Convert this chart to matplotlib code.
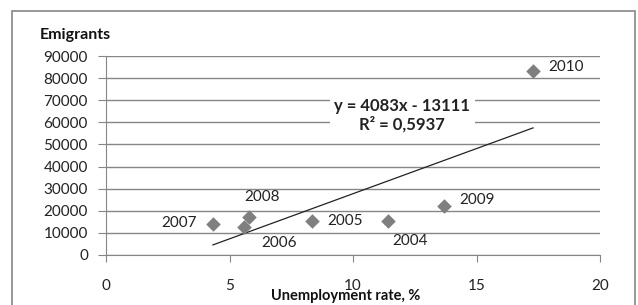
import matplotlib
matplotlib.use("Agg")
import matplotlib.pyplot as plt
from matplotlib.patches import Rectangle
import numpy as np

plt.rcParams['font.family'] = ['Lato', 'DejaVu Sans']

# data
years = ['2004', '2005', '2006', '2007', '2008', '2009', '2010']
unemployment = [11.42, 8.34, 5.59, 4.33, 5.79, 13.68, 17.29]
emigrants = [15200, 15400, 12600, 14000, 17200, 22100, 83200]
slope, intercept = 4083, -13111
eq_text = 'y = 4083x - 13111\nR² = 0,5937'

# label offsets in pixels (dx, dy, ha)
label_pos = {
    '2004': (22, -20, 'center'),
    '2005': (15, 0, 'left'),
    '2006': (35, -16, 'center'),
    '2007': (-16, 1, 'right'),
    '2008': (13, 20, 'center'),
    '2009': (15, 6, 'left'),
    '2010': (15, 4, 'left'),
}

fig = plt.figure(figsize=(6.38, 3.05), dpi=100)
ax = fig.add_axes([106/638, 50/305, 494/638, 199/305])

# outer chart border
fig.patches.append(Rectangle((12/638, -0.1), 623/638, 1.1 - 11/305, transform=fig.transFigure,
                             fill=False, edgecolor='#868686', linewidth=1.2))

ax.set_xlim(0, 20)
ax.set_ylim(0, 90000)
ax.set_xticks([0, 5, 10, 15, 20])
ax.set_yticks(np.arange(0, 90001, 10000))
ax.yaxis.grid(True, color='#868686', linewidth=1)
ax.set_axisbelow(True)
for s in ['top', 'right']:
    ax.spines[s].set_visible(False)
for s in ['left', 'bottom']:
    ax.spines[s].set_color('#868686')
ax.tick_params(axis='y', length=6, color='#868686', pad=7, labelsize=11, labelcolor='#222222')
ax.tick_params(axis='x', length=5, color='#868686', pad=12, labelsize=11, labelcolor='#222222')

ax.scatter(unemployment, emigrants, marker='D', s=55, color='#7f7f7f', zorder=3, linewidths=0)

xs = np.array([min(unemployment), max(unemployment)])
ax.plot(xs, slope * xs + intercept, color='#222222', linewidth=0.9, zorder=2)

for yr, xv, yv in zip(years, unemployment, emigrants):
    dx, dy, ha = label_pos[yr]
    ax.annotate(yr, (xv, yv), xytext=(dx, dy), textcoords='offset pixels',
                ha=ha, va='center', fontsize=11, color='#222222')

ax.text(12.0, 63300, eq_text, ha='center', va='center', fontsize=12, fontweight='bold',
        color='#222222', linespacing=1.15, zorder=4,
        bbox=dict(facecolor='white', edgecolor='none', pad=3))

fig.text(40/638, 1 - 35/305, 'Emigrants', ha='left', va='center', fontsize=11.5,
         fontweight='bold', color='#111111')
fig.text(346/638, 1 - 296/305, 'Unemployment rate, %', ha='center', va='center',
         fontsize=10.5, fontweight='bold', color='#111111')

fig.savefig('out.png', dpi=100)
